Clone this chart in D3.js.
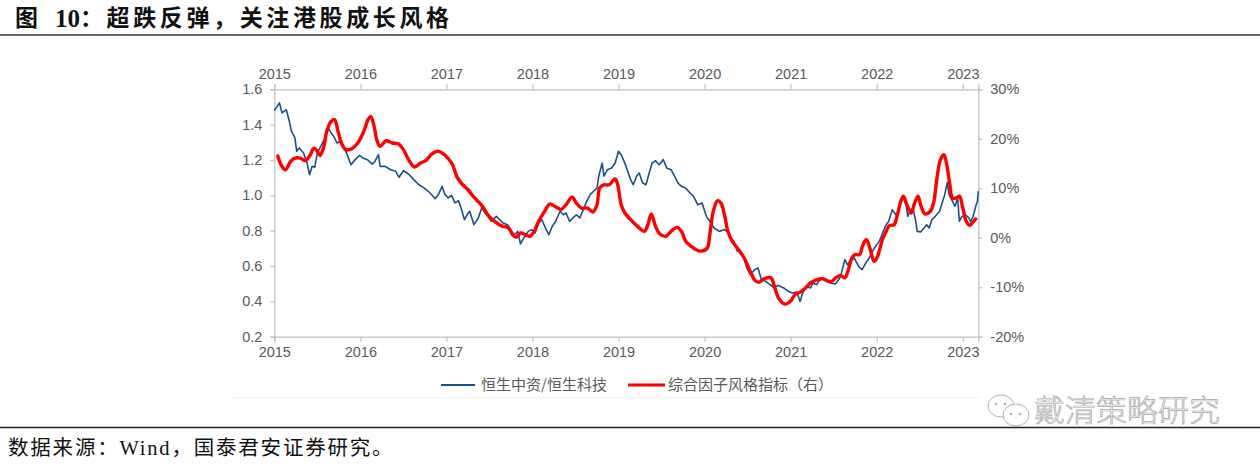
<!DOCTYPE html>
<html>
<head>
<meta charset="utf-8">
<script src="https://cdn.jsdelivr.net/npm/d3@7"></script>
<style>
  html, body { margin: 0; padding: 0; background: #fff; }
  svg { display: block; }
</style>
</head>
<body>
<svg id="chart" width="1260" height="467"></svg>
<script>
// ---------------- data ----------------
const years = [2015, 2016, 2017, 2018, 2019, 2020, 2021, 2022, 2023];
const leftTicks = [0.2, 0.4, 0.6, 0.8, 1.0, 1.2, 1.4, 1.6];
const rightTicks = [-20, -10, 0, 10, 20, 30];

// 恒生中资/恒生科技 (left axis), time in decimal years
const blueT = [2015.00,2015.06,2015.09,2015.14,2015.17,2015.20,2015.24,2015.26,2015.29,2015.34,2015.38,2015.41,2015.44,2015.47,2015.50,2015.52,2015.55,2015.59,2015.63,2015.66,2015.69,2015.73,2015.77,2015.81,2015.84,2015.89,2015.94,2015.99,
2016.03,2016.08,2016.14,2016.17,2016.21,2016.23,2016.29,2016.35,2016.41,2016.45,2016.50,2016.56,2016.62,2016.68,2016.74,2016.79,2016.87,2016.91,2016.95,2016.98,
2017.02,2017.06,2017.10,2017.14,2017.17,2017.21,2017.24,2017.27,2017.32,2017.37,2017.41,2017.45,2017.48,2017.52,2017.58,2017.62,2017.66,2017.71,2017.76,2017.79,2017.83,2017.86,2017.90,2017.95,2017.99,
2018.03,2018.07,2018.11,2018.15,2018.19,2018.23,2018.27,2018.32,2018.36,2018.39,2018.43,2018.47,2018.51,2018.55,2018.59,2018.63,2018.67,2018.71,2018.75,2018.77,2018.81,2018.83,2018.87,2018.92,2018.96,
2019.00,2019.04,2019.07,2019.10,2019.14,2019.17,2019.21,2019.24,2019.28,2019.32,2019.35,2019.39,2019.43,2019.47,2019.52,2019.56,2019.61,2019.65,2019.69,2019.73,2019.78,2019.83,2019.87,2019.92,2019.97,
2020.02,2020.06,2020.11,2020.17,2020.23,2020.28,2020.30,2020.34,2020.38,2020.41,2020.45,2020.49,2020.53,2020.58,2020.62,2020.66,2020.71,2020.76,2020.81,2020.85,2020.92,2020.97,
2021.02,2021.07,2021.11,2021.14,2021.18,2021.23,2021.26,2021.30,2021.35,2021.40,2021.46,2021.52,2021.57,2021.59,2021.63,2021.66,2021.69,2021.74,2021.79,2021.83,2021.86,2021.91,2021.96,
2022.00,2022.03,2022.06,2022.10,2022.14,2022.18,2022.22,2022.25,2022.28,2022.31,2022.34,2022.36,2022.39,2022.42,2022.45,2022.47,2022.51,2022.55,2022.58,2022.61,2022.64,2022.68,2022.73,2022.76,2022.79,2022.82,2022.84,2022.88,2022.91,2022.94,2022.96,2022.99,
2023.03,2023.07,2023.09,2023.12,2023.15,2023.17,2023.18];
const blueV = [1.479,1.523,1.466,1.485,1.428,1.362,1.325,1.249,1.268,1.240,1.183,1.117,1.164,1.159,1.240,1.258,1.287,1.325,1.381,1.353,1.334,1.296,1.306,1.268,1.240,1.173,1.202,1.226,
1.211,1.202,1.177,1.193,1.230,1.164,1.164,1.145,1.136,1.102,1.139,1.121,1.089,1.060,1.042,1.023,0.981,1.008,1.051,1.008,
0.985,1.000,0.957,0.970,0.928,0.862,0.890,0.910,0.834,0.872,0.928,0.900,0.881,0.853,0.881,0.862,0.843,0.834,0.796,0.777,0.796,0.725,0.759,0.796,0.806,
0.787,0.843,0.862,0.815,0.777,0.825,0.853,0.910,0.890,0.900,0.853,0.872,0.890,0.872,0.919,0.966,1.004,1.023,1.042,1.108,1.183,1.108,1.145,1.155,1.183,
1.249,1.221,1.185,1.145,1.089,1.060,1.108,1.126,1.070,1.060,1.117,1.183,1.196,1.173,1.202,1.155,1.145,1.108,1.070,1.051,1.042,1.013,0.995,0.947,0.957,
0.881,0.853,0.815,0.796,0.806,0.787,0.759,0.740,0.683,0.692,0.655,0.589,0.551,0.579,0.589,0.523,0.514,0.494,0.476,0.491,0.476,0.457,
0.447,0.453,0.400,0.447,0.485,0.476,0.504,0.494,0.532,0.517,0.504,0.498,0.532,0.561,0.636,0.607,0.627,0.645,0.598,0.579,0.607,0.645,0.692,
0.721,0.740,0.777,0.825,0.853,0.919,0.890,0.910,0.966,0.985,0.947,0.881,0.910,0.928,0.862,0.796,0.793,0.815,0.834,0.815,0.862,0.881,0.910,0.957,1.004,1.072,1.004,0.966,0.938,0.985,0.853,0.881,
0.890,0.872,0.853,0.881,0.938,0.966,1.023];

// 综合因子风格指标（右）, percent
const redT = [2015.04,2015.09,2015.13,2015.19,2015.24,2015.30,2015.36,2015.41,2015.46,2015.50,2015.53,2015.57,2015.61,2015.66,2015.70,2015.74,2015.78,2015.83,2015.90,2015.97,
2016.04,2016.09,2016.12,2016.16,2016.19,2016.23,2016.30,2016.37,2016.44,2016.50,2016.56,2016.63,2016.70,2016.76,2016.83,2016.90,2016.97,
2017.02,2017.07,2017.12,2017.17,2017.25,2017.33,2017.41,2017.48,2017.56,2017.64,2017.72,2017.77,2017.81,2017.86,2017.92,2017.97,
2018.02,2018.07,2018.14,2018.20,2018.26,2018.33,2018.39,2018.46,2018.51,2018.57,2018.64,2018.70,2018.75,2018.78,2018.83,2018.89,2018.96,2018.99,
2019.03,2019.07,2019.14,2019.22,2019.30,2019.34,2019.38,2019.43,2019.48,2019.55,2019.61,2019.68,2019.73,2019.78,2019.84,2019.90,2019.96,
2020.03,2020.06,2020.10,2020.15,2020.19,2020.23,2020.27,2020.32,2020.38,2020.46,2020.53,2020.58,2020.63,2020.69,2020.77,2020.81,2020.86,2020.93,
2021.00,2021.05,2021.11,2021.17,2021.23,2021.30,2021.38,2021.44,2021.48,2021.53,2021.58,2021.63,2021.67,2021.71,2021.75,2021.80,2021.84,2021.88,2021.92,2021.97,
2022.01,2022.06,2022.11,2022.15,2022.20,2022.24,2022.28,2022.31,2022.35,2022.40,2022.44,2022.48,2022.51,2022.56,2022.62,2022.66,2022.70,2022.74,2022.78,2022.81,2022.85,2022.88,2022.92,2022.96,
2023.00,2023.04,2023.08,2023.11,2023.15];
const redV = [16.5,14.4,13.75,15.45,16.1,16.1,15.6,16.5,18.1,17.5,16.6,18.1,21.5,23.5,23.9,21.5,19.15,17.8,18.0,19.15,
21.5,23.9,24.5,22.5,19.8,18.5,19.6,19.15,19.0,17.8,15.8,14.3,15.1,15.6,16.9,17.5,16.9,
16.0,14.8,12.4,11.1,9.7,8.0,6.55,4.65,3.3,2.4,2.0,0.6,0.1,0.96,0.6,0.3,
1.3,3.3,5.3,6.8,6.35,5.7,6.7,8.2,7.0,6.0,6.0,5.2,6.7,10.05,10.7,10.7,11.9,10.7,
6.7,5.1,3.65,2.3,1.3,2.6,4.8,2.3,0.76,0.3,1.3,2.1,1.3,-0.7,-1.7,-2.4,-2.7,
-2.1,0.6,5.3,7.5,7.0,4.7,1.3,-0.7,-2.1,-4.1,-6.8,-8.5,-9.0,-8.3,-8.1,-9.8,-12.2,-13.4,
-12.8,-11.5,-11.0,-10.2,-9.1,-8.5,-8.3,-8.8,-8.8,-8.0,-7.6,-8.1,-6.5,-4.1,-3.4,-3.4,-1.4,-0.4,-2.1,-4.8,
-3.75,-0.7,1.3,2.5,2.6,4.65,7.4,8.4,6.7,5.0,7.0,8.4,6.7,4.8,5.3,7.0,12.1,15.8,16.8,15.1,10.7,8.0,8.0,8.4,
6.0,3.3,2.5,3.0,3.8];

const legendLabels = ["恒生中资/恒生科技", "综合因子风格指标（右）"];
const titleText = "图 10：超跌反弹，关注港股成长风格";
const sourceText = "数据来源：Wind，国泰君安证券研究。";
const watermarkText = "戴清策略研究";

// ---------------- drawing ----------------
const svg = d3.select("#chart");
const plot = { left: 274.3, right: 978.3, top: 89.3, bottom: 336.7 };
const axisColor = "#bfbfbf";
const labelColor = "#595959";
const numFont = "'Liberation Sans', Arial, sans-serif";
const cjkFont = "'Noto Sans CJK SC', sans-serif";

const x = d3.scaleLinear().domain([2015, 2023.18]).range([plot.left, plot.right]);
const yL = d3.scaleLinear().domain([0.2, 1.6]).range([plot.bottom, plot.top]);
const yR = d3.scaleLinear().domain([-20, 30]).range([plot.bottom, plot.top]);

// Title
const tparts = titleText.split(" ");
svg.append("text").attr("x", 15).attr("y", 26)
  .attr("font-family", cjkFont).attr("font-weight", 700).attr("font-size", 23)
  .attr("fill", "#111").text(tparts[0]);
const rest = tparts[1];
const numPart = rest.match(/^\d+/)[0];
svg.append("text").attr("x", 55).attr("y", 27)
  .attr("font-family", "'Liberation Serif', serif").attr("font-weight", 700).attr("font-size", 25)
  .attr("fill", "#111").text(numPart);
svg.append("text").attr("x", 80).attr("y", 26)
  .attr("font-family", cjkFont).attr("font-weight", 700).attr("font-size", 23)
  .attr("fill", "#111").attr("textLength", 369).attr("lengthAdjust", "spacing")
  .text(rest.slice(numPart.length));
svg.append("line").attr("x1", 0).attr("x2", 1260).attr("y1", 35).attr("y2", 35)
  .attr("stroke", "#333").attr("stroke-width", 1.5);

// faint chart image boundary
svg.append("line").attr("x1", 234).attr("x2", 979).attr("y1", 397.5).attr("y2", 397.5)
  .attr("stroke", "#f0f0f0").attr("stroke-width", 1);

// Axes
function styleAxis(g) {
  g.selectAll(".domain").attr("stroke", axisColor).attr("stroke-width", 1.2);
  g.selectAll(".tick line").attr("stroke", axisColor).attr("stroke-width", 1.2);
  g.selectAll(".tick text").attr("fill", labelColor).attr("font-family", numFont).attr("font-size", 14.5);
}
const gBottom = svg.append("g").attr("transform", `translate(0,${plot.bottom})`)
  .call(d3.axisBottom(x).tickValues(years).tickFormat(d3.format("d")).tickSizeOuter(0).tickSize(5).tickPadding(5));
styleAxis(gBottom);
const gTop = svg.append("g").attr("transform", `translate(0,${plot.top})`)
  .call(d3.axisTop(x).tickValues(years).tickFormat(d3.format("d")).tickSizeOuter(0).tickSize(5).tickPadding(5));
styleAxis(gTop);
const gLeft = svg.append("g").attr("transform", `translate(${plot.left},0)`)
  .call(d3.axisLeft(yL).tickValues(leftTicks).tickFormat(d3.format(".1f")).tickSizeOuter(0).tickSize(4).tickPadding(8));
styleAxis(gLeft);
const gRight = svg.append("g").attr("transform", `translate(${plot.right},0)`)
  .call(d3.axisRight(yR).tickValues(rightTicks).tickFormat(d => d + "%").tickSizeOuter(0).tickSize(4).tickPadding(8));
styleAxis(gRight);

// Lines
const blueData = blueT.map((t, i) => [t, blueV[i]]);
const redData = redT.map((t, i) => [t, redV[i]]);
svg.append("path").datum(blueData)
  .attr("fill", "none").attr("stroke", "#1b4f88").attr("stroke-width", 1.6)
  .attr("stroke-linejoin", "round")
  .attr("d", d3.line().x(d => x(d[0])).y(d => yL(d[1])).curve(d3.curveLinear));
svg.append("path").datum(redData)
  .attr("fill", "none").attr("stroke", "#ff0000").attr("stroke-width", 3.4)
  .attr("stroke-linejoin", "round").attr("stroke-linecap", "round")
  .attr("d", d3.line().x(d => x(d[0])).y(d => yR(d[1])).curve(d3.curveCatmullRom.alpha(0.5)));

// Legend
const legY = 385;
const leg = [
  { x1: 441, x2: 475, tx: 481, color: "#1b4f88", w: 2, label: legendLabels[0] },
  { x1: 628, x2: 665, tx: 668, color: "#ff0000", w: 3, label: legendLabels[1] }
];
leg.forEach(l => {
  svg.append("line").attr("x1", l.x1).attr("x2", l.x2).attr("y1", legY).attr("y2", legY)
    .attr("stroke", l.color).attr("stroke-width", l.w);
  svg.append("text").attr("x", l.tx).attr("y", legY).attr("dy", "0.35em")
    .attr("font-family", cjkFont).attr("font-size", 15).attr("fill", labelColor).text(l.label);
});

// Watermark
const wm = svg.append("g").attr("opacity", 0.75);
wm.append("ellipse").attr("cx", 1001).attr("cy", 406).attr("rx", 13).attr("ry", 11)
  .attr("fill", "#fff").attr("stroke", "#999").attr("stroke-width", 1);
wm.append("ellipse").attr("cx", 1016).attr("cy", 415).attr("rx", 13).attr("ry", 11)
  .attr("fill", "#fff").attr("stroke", "#999").attr("stroke-width", 1);
[[1011, 414], [1020, 414]].forEach(p => wm.append("circle").attr("cx", p[0]).attr("cy", p[1]).attr("r", 1.3).attr("fill", "#999"));
[[996, 404], [1005, 404]].forEach(p => wm.append("circle").attr("cx", p[0]).attr("cy", p[1]).attr("r", 1.3).attr("fill", "#999"));
wm.append("text").attr("x", 1034).attr("y", 421)
  .attr("font-family", cjkFont).attr("font-size", 30).attr("font-weight", 300)
  .attr("fill", "#f4f4f4").attr("stroke", "#8a8a8a").attr("stroke-width", 0.7)
  .attr("textLength", 186).attr("lengthAdjust", "spacingAndGlyphs")
  .text(watermarkText);

// Footer
svg.append("line").attr("x1", 0).attr("x2", 1260).attr("y1", 427.5).attr("y2", 427.5)
  .attr("stroke", "#222").attr("stroke-width", 1.5);
svg.append("text").attr("x", 8).attr("y", 455)
  .attr("font-family", "'Liberation Serif', 'Noto Sans CJK SC', serif").attr("font-size", 20.5)
  .attr("letter-spacing", 1.8)
  .attr("fill", "#111")
  .text(sourceText);
</script>
</body>
</html>
